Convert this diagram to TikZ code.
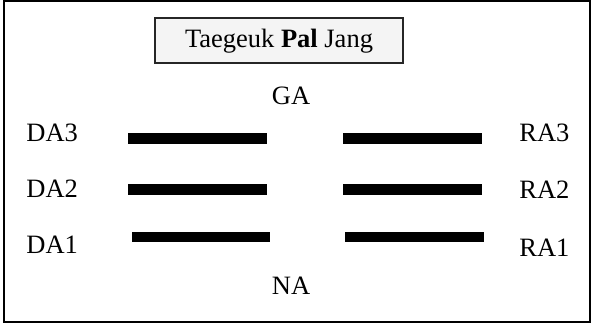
\documentclass[tikz,border=0pt]{standalone}
\usepackage{fontspec}
\setmainfont{Liberation Serif}
\usetikzlibrary{positioning}

\begin{document}
\begin{tikzpicture}[x=0.5pt, y=0.5pt,
    lbl/.style={inner sep=0pt, font=\fontsize{13.25}{16}\selectfont},
    titlebox/.style={draw=black!85, line width=1pt, fill=gray!9,
                     minimum width=124pt, minimum height=22.5pt,
                     inner sep=0pt, font=\fontsize{13.25}{16}\selectfont},
    bar/.style={fill=black}]

    \useasboundingbox (0,0) rectangle (592,325);

    % Frame
    \draw[line width=1pt] (4,3) rectangle (590,324);

    % Title
    \node[titlebox] (title) at (279,284) {Taegeuk \textbf{Pal} Jang};

    % Directions
    \node[lbl, anchor=base] (ga) at (291,220) {GA};
    \node[lbl, anchor=base] (na) at (291,30) {NA};

    \node[lbl, anchor=base west] (da3) at (26,183) {DA3};
    \node[lbl, anchor=base west] (da2) at (26,127) {DA2};
    \node[lbl, anchor=base west] (da1) at (26,71) {DA1};

    \node[lbl, anchor=base west] (ra3) at (519,183) {RA3};
    \node[lbl, anchor=base west] (ra2) at (519,126) {RA2};
    \node[lbl, anchor=base west] (ra1) at (519,68) {RA1};

    % Bars
    \fill[bar] (128,181) rectangle (267,192);
    \fill[bar] (128,130) rectangle (267,141);
    \fill[bar] (132,83) rectangle (270,93);

    \fill[bar] (343,181) rectangle (482,192);
    \fill[bar] (343,130) rectangle (482,141);
    \fill[bar] (345,83) rectangle (484,93);
\end{tikzpicture}
\end{document}
